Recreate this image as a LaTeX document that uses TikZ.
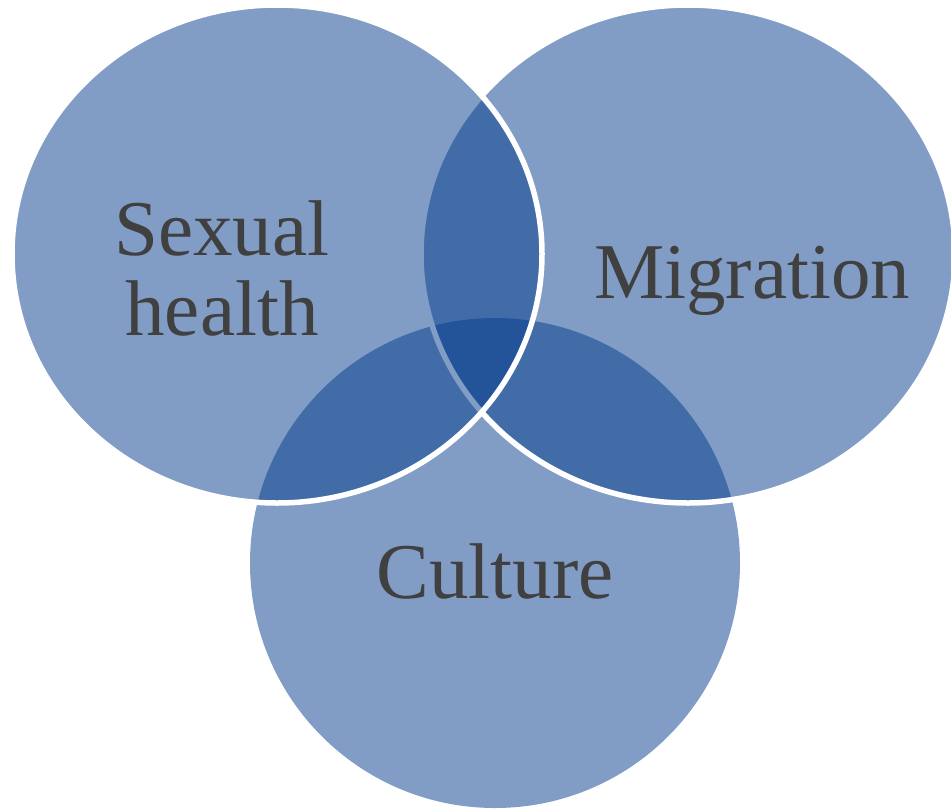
\documentclass[tikz,border=0pt]{standalone}
\usepackage{fontspec}
\setmainfont{Liberation Serif}
\definecolor{vennblue}{RGB}{4,60,140}
\definecolor{txtgray}{RGB}{64,64,64}
\begin{document}
\begin{tikzpicture}[x=1pt,y=-1pt,
  venn/.style={fill=vennblue, fill opacity=0.5},
  vennline/.style={venn, draw=white, line width=5.5pt},
  lbl/.style={text=txtgray, font=\fontsize{79}{80}\selectfont, align=center, inner sep=0pt}]
\useasboundingbox (0,0) rectangle (951,809);
\begin{scope}
\clip (0,0) rectangle (951,809);
\path[venn] (495,563) ellipse [x radius=245, y radius=245];
\path[vennline] (688,254) ellipse [x radius=267, y radius=249];
\path[vennline] (277,254) ellipse [x radius=265, y radius=249];
\end{scope}
\node[lbl, anchor=base] (sexual) at (222,335) {Sexual\\health};
\node[lbl, anchor=base] (migration) at (752,298) {Migration};
\node[lbl, anchor=base] (culture) at (495,598) {Culture};
\end{tikzpicture}
\end{document}
